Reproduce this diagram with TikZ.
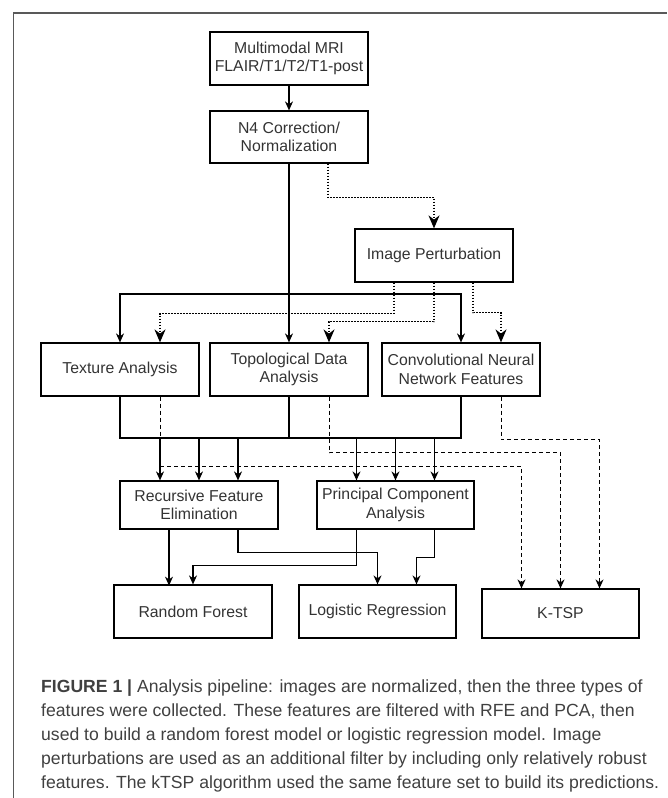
\documentclass[tikz,border=0pt]{standalone}
\usepackage{fontspec}
\setmainfont{Liberation Sans}
\usetikzlibrary{arrows.meta}

\begin{document}
\begin{tikzpicture}
      [%%%%%%%%%%%%%%%%%%%%%%%%%%%%%%
          x=1pt, y=-1pt,
          box/.style={rectangle,draw=black,line width=1.2pt,minimum width=158pt,
                      minimum height=53pt,inner sep=0pt,align=center,
                      font=\fontsize{15.8}{18.5}\selectfont,text=black!80},
          link/.style={line width=1.1pt,-{Stealth[length=9pt,width=8pt]}},
          plain/.style={line width=1.1pt},
          robust/.style={line width=1.7pt,dash pattern=on 1.6pt off 1.4pt,
                      -{Stealth[length=13pt,width=11pt]}},
          pairs/.style={line width=1pt,dash pattern=on 4pt off 3pt,
                      -{Stealth[length=9pt,width=8pt]}},
          frame/.style={draw=black!65,line width=1.5pt}
      ]%%%%%%%%%%%%%%%%%%%%%%%%%%%%%%

  \useasboundingbox (0,0) rectangle (667,798);
  \draw[frame] (13.5,798) -- (13.5,13) -- (667,13);

  \node[box] (mri) at (289,58.5) {Multimodal MRI\\FLAIR/T1/T2/T1-post};
  \node[box,minimum height=52pt] (norm) at (289,137) {N4 Correction/\\Normalization};
  \node[box] (perturb) at (434,255.5) {Image Perturbation};

  \node[box] (texture) at (120,369.5) {Texture Analysis};
  \node[box] (topo) at (289,369.5) {Topological Data\\Analysis};
  \node[box] (cnn) at (461,369.5) {Convolutional Neural\\Network Features};

  \node[box,minimum height=48pt] (rfe) at (199,505) {Recursive Feature\\Elimination};
  \node[box,minimum height=48pt,minimum width=157pt] (pca) at (395.5,505) {Principal Component\\Analysis};

  \node[box] (forest) at (193,611.5) {Random Forest};
  \node[box,minimum width=157pt] (logit) at (377.5,611.5) {Logistic Regression};
  \node[box,minimum width=157pt,minimum height=49pt] (ktsp) at (560.5,613.5) {K-TSP};

  % preprocessing
  \draw[link] (mri) -- (norm);
  \draw[robust] ([xshift=39pt]norm.south) -- ++(0,34) -| (perturb.north);

  % feature extraction
  \coordinate (fork) at (289,294);
  \draw[link] (norm) -- (topo);
  \draw[link] (fork) -| (texture.north);
  \draw[link] (fork) -| (cnn.north);

  \draw[robust] ([xshift=-40pt]perturb.south) -- ++(0,31) -| ([xshift=40pt]texture.north);
  \draw[robust] (perturb.south) -- ++(0,39) -| ([xshift=40pt]topo.north);
  \draw[robust] ([xshift=39pt]perturb.south) -- ++(0,30) -| ([xshift=40pt]cnn.north);

  % feature selection
  \coordinate (join) at (289,438);
  \draw[plain] (texture.south) |- (join) -| (cnn.south);
  \draw[plain] (topo.south) -- (join);
  \foreach \dx in {-39,0,39}{
      \draw[link] (rfe.north) ++(\dx,-43) -- ++(0,43);
      \draw[link] (pca.north) ++(\dx,-43) -- ++(0,43);
  }

  \draw[pairs] ([xshift=40pt]texture.south) -- ++(0,70) -| ([xshift=-39pt]ktsp.north);
  \draw[pairs] ([xshift=40pt]topo.south) -- ++(0,56) -| (ktsp.north);
  \draw[pairs] ([xshift=40pt]cnn.south) -- ++(0,43) -| ([xshift=39pt]ktsp.north);

  % models
  \draw[link] ([xshift=-30pt]rfe.south) -- ++(0,56);
  \draw[link] ([xshift=39pt]rfe.south) -- ++(0,23) -| (logit.north);
  \draw[link] ([xshift=-39pt]pca.south) -- ++(0,36) -| (forest.north);
  \draw[link] ([xshift=39pt]pca.south) -- ++(0,28) -| ([xshift=39pt]logit.north);

  \node[anchor=north west,align=left,inner sep=0pt,text=black!75,
        font=\fontsize{17.6}{24}\selectfont] (caption) at (41,680)
      {\textbf{FIGURE 1 |} Analysis pipeline: images are normalized, then the three types of\\
       features were collected. These features are filtered with RFE and PCA, then\\
       used to build a random forest model or logistic regression model. Image\\
       perturbations are used as an additional filter by including only relatively robust\\
       features. The kTSP algorithm used the same feature set to build its predictions.};

\end{tikzpicture}
\end{document}
